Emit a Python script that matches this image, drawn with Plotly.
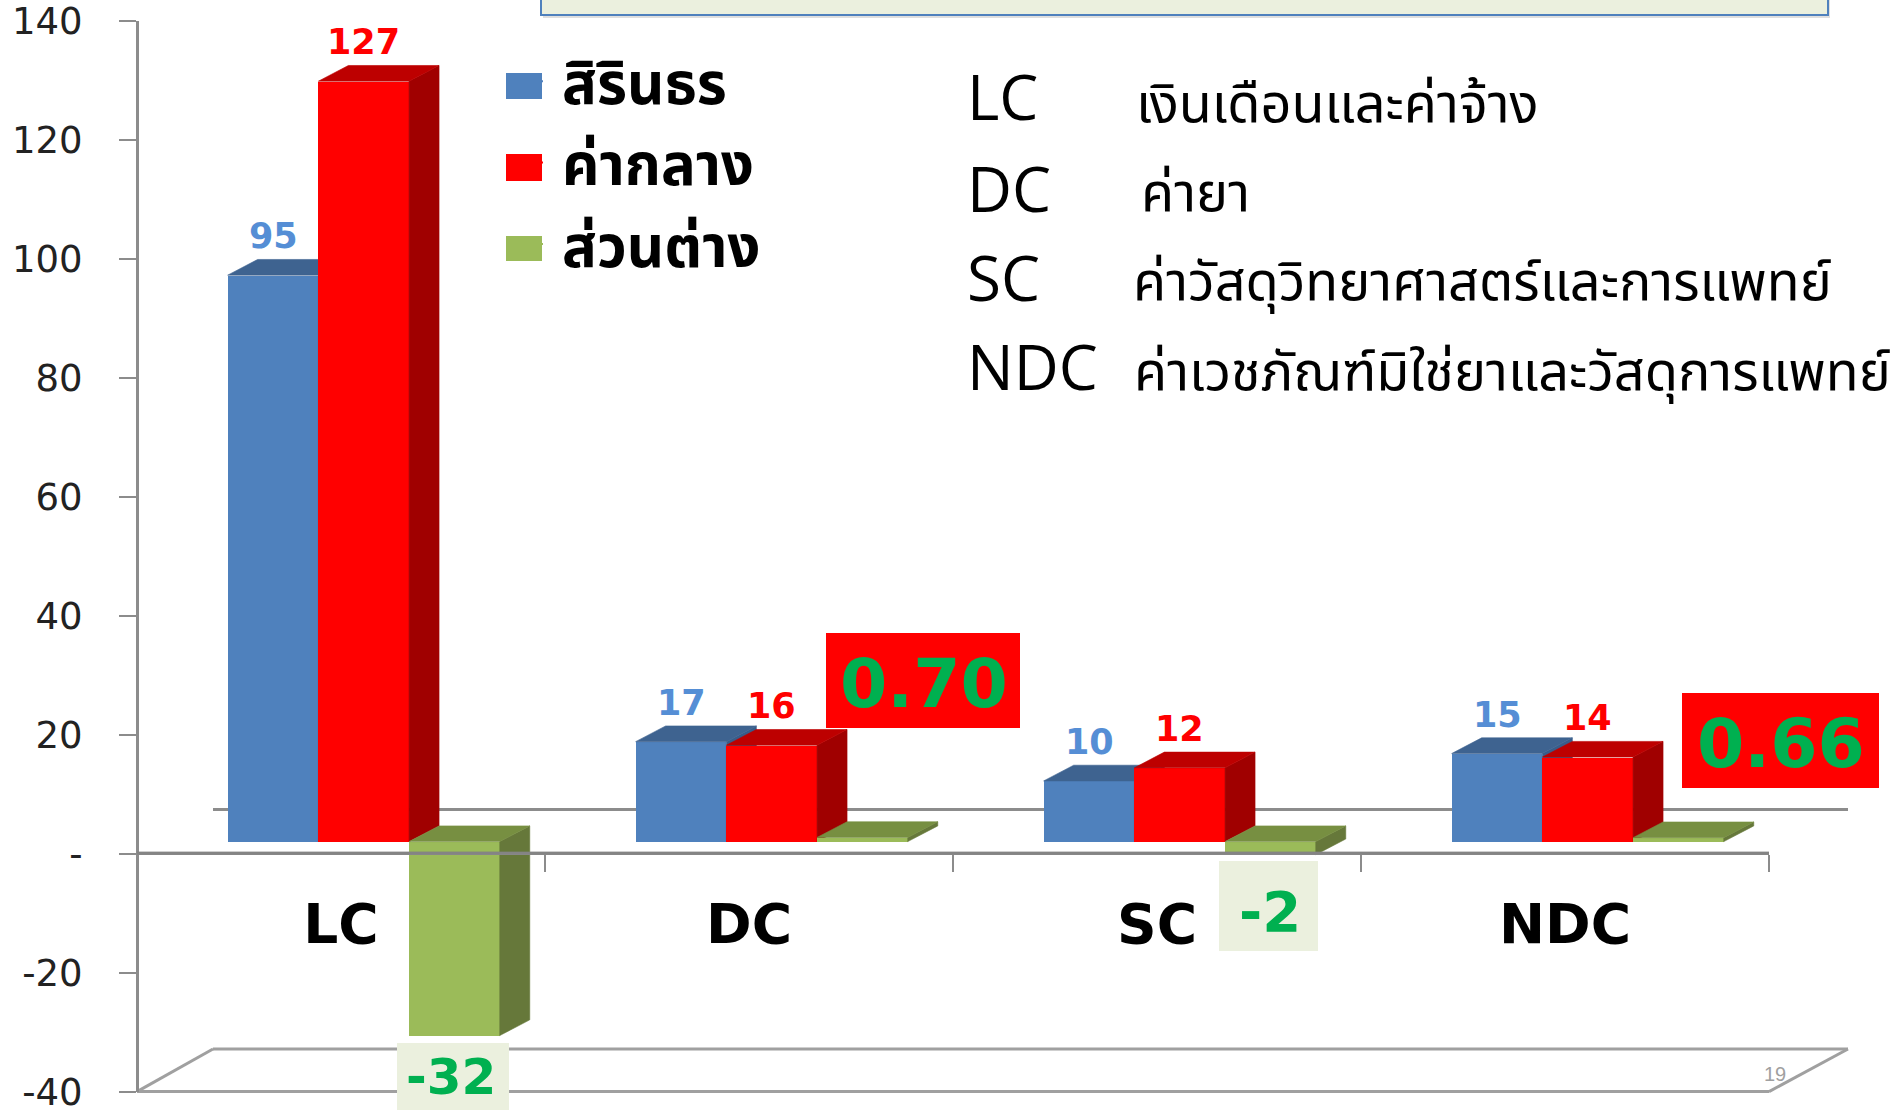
import plotly.graph_objects as go

W, H = 1897, 1110
categories = ["LC", "DC", "SC", "NDC"]
sirindhorn = [95.2, 16.8, 10.2, 14.8]
median = [127.8, 16.2, 12.4, 14.2]
difference = [-32.6, 0.70, -2.2, 0.66]
series_names = ["สิรินธร", "ค่ากลาง", "ส่วนต่าง"]
y_ticks = [-40, -20, 0, 20, 40, 60, 80, 100, 120, 140]
y_ticktext = ["-40", "-20", "-", "20", "40", "60", "80", "100", "120", "140"]
blue_labels = ["95", "17", "10", "15"]
red_labels = ["127", "16", "12", "14"]
diff_labels = ["-32", "0.70", "-2", "0.66"]
definitions = [("LC", "เงินเดือนและค่าจ้าง"), ("DC", "ค่ายา"),
               ("SC", "ค่าวัสดุวิทยาศาสตร์และการแพทย์"),
               ("NDC", "ค่าเวชภัณฑ์มิใช่ยาและวัสดุการแพทย์")]

THAI = "'Noto Sans Thai','Noto Sans','Open Sans',Tahoma,sans-serif"
AX = "#8c8c8c"

L, R = 137.0, 1769.0
T, B = 20.6, 1091.6
cat_px = (R - L) / 4
unit_px = (B - T) / 180
bar_w = 90.7 / cat_px
depth_x = 30 / cat_px
depth_y = 15.7 / unit_px
shift_x = 22.7 / cat_px
shift_y = 12 / unit_px

def px(x): return x / W
def py(y): return 1 - y / H

def faces(values, offset):
    top_x, top_y, side_x, side_y = [], [], [], []
    for i, v in enumerate(values):
        x0 = i + offset
        x1 = x0 + bar_w
        hi = max(v, 0)
        lo = min(v, 0)
        top_x += [x0, x1, x1 + depth_x, x0 + depth_x, x0, None]
        top_y += [hi, hi, hi + depth_y, hi + depth_y, hi, None]
        side_x += [x1, x1 + depth_x, x1 + depth_x, x1, x1, None]
        side_y += [lo, lo + depth_y, hi + depth_y, hi, lo, None]
    return top_x, top_y, side_x, side_y

fig = go.Figure()

fig.add_trace(go.Scatter(x=categories, y=[0, 0, 0, 0], mode="none", showlegend=False,
                         hoverinfo="skip", xaxis="x", yaxis="y"))

styles = [
    (sirindhorn, "#4f81bd", "#3e6390", "#385d8a", -1.5),
    (median, "#ff0000", "#bd0000", "#a00000", -0.5),
    (difference, "#9bbb59", "#778f41", "#66783a", 0.5),
]
for k, (vals, front, top, side, slot) in enumerate(styles):
    n = k + 2
    off = slot * bar_w
    xa, ya = f"x{n}", f"y{n}"
    tx, ty, sx, sy = faces(vals, off)
    fig.add_trace(go.Bar(x=list(range(4)), y=vals, width=bar_w, offset=off, name=series_names[k],
                         marker=dict(color=front, line=dict(width=0)), showlegend=False,
                         xaxis=xa, yaxis=ya))
    fig.add_trace(go.Scatter(x=sx, y=sy, mode="lines", fill="toself", fillcolor=side,
                             line=dict(width=0.6, color=side), showlegend=False, hoverinfo="skip", xaxis=xa, yaxis=ya))
    fig.add_trace(go.Scatter(x=tx, y=ty, mode="lines", fill="toself", fillcolor=top,
                             line=dict(width=0.6, color=top), showlegend=False, hoverinfo="skip", xaxis=xa, yaxis=ya))
    fig.add_trace(go.Scatter(x=[None], y=[None], mode="markers", name=series_names[k],
                             legendgroup=series_names[k],
                             marker=dict(symbol="square", size=2, color=front),
                             xaxis="x", yaxis="y"))
    fig.layout[f"xaxis{n}"] = dict(overlaying="x", visible=False, range=[-0.5 - shift_x, 3.5 - shift_x], fixedrange=True)
    fig.layout[f"yaxis{n}"] = dict(overlaying="y", visible=False, range=[-40 - shift_y, 140 - shift_y], fixedrange=True)

annotations = []
for i in range(4):
    annotations.append(dict(xref="x2", yref="y2", x=i - bar_w, y=sirindhorn[i], yshift=39, text=blue_labels[i],
                            showarrow=False, font=dict(family="DejaVu Sans", size=35, color="#558ed5", weight="bold")))
    annotations.append(dict(xref="x3", yref="y3", x=i, y=median[i], yshift=39, text=red_labels[i],
                            showarrow=False, font=dict(family="DejaVu Sans", size=35, color="#ff0000", weight="bold")))

boxes = [(397, 509, 1043, 1110, "#ebf0de", 50, 451, 1077),
         (826, 1020, 633, 728, "#ff0000", 68, 924, 683),
         (1219, 1318, 861, 951, "#ebf0de", 56, 1270, 911),
         (1682, 1879, 693, 788, "#ff0000", 68, 1781, 743)]
shapes = [
    dict(type="rect", xref="paper", yref="paper", x0=px(543), x1=px(1830), y0=py(18), y1=py(-5),
         fillcolor="rgba(80,80,80,0.18)", line=dict(width=0), layer="above"),
    dict(type="rect", xref="paper", yref="paper", x0=px(541), x1=px(1828), y0=py(15), y1=py(-5),
         fillcolor="#ebf0de", line=dict(color="#4f81bd", width=2), layer="above"),
    dict(type="line", xref="paper", yref="paper", x0=px(213), x1=px(1848), y0=py(809.5), y1=py(809.5),
         line=dict(color=AX, width=3), layer="below"),
    dict(type="line", xref="paper", yref="paper", x0=px(L), x1=px(213), y0=py(B), y1=py(1049),
         line=dict(color="#a0a0a0", width=3), layer="below"),
    dict(type="line", xref="paper", yref="paper", x0=px(213), x1=px(1848), y0=py(1049), y1=py(1049),
         line=dict(color="#a0a0a0", width=3), layer="below"),
    dict(type="line", xref="paper", yref="paper", x0=px(R), x1=px(1848), y0=py(B), y1=py(1049),
         line=dict(color="#a0a0a0", width=3), layer="below"),
    dict(type="line", xref="paper", yref="paper", x0=px(L), x1=px(R), y0=py(B), y1=py(B),
         line=dict(color="#a0a0a0", width=3), layer="below"),
    dict(type="line", xref="paper", yref="paper", x0=px(L), x1=px(R), y0=py(853), y1=py(853),
         line=dict(color="rgba(130,130,130,0.75)", width=3), layer="above"),
]
for (y0, y1), (_, front, *_rest) in zip([(73, 99), (154, 181), (236, 261)], styles):
    shapes.append(dict(type="rect", xref="paper", yref="paper", x0=px(506), x1=px(542), y0=py(y1), y1=py(y0),
                       fillcolor=front, line=dict(width=0), layer="above"))
for (x0, x1, y0, y1, col, size, cx, cy), lab in zip(boxes, diff_labels):
    shapes.append(dict(type="rect", xref="paper", yref="paper", x0=px(x0), x1=px(x1), y0=py(y1), y1=py(y0),
                       fillcolor=col, line=dict(width=0), layer="above"))
    annotations.append(dict(xref="paper", yref="paper", x=px(cx), y=py(cy), text=lab, showarrow=False,
                            xanchor="center", yanchor="middle",
                            font=dict(family="DejaVu Sans", size=size, color="#00b050", weight="bold")))

ys = [(96, 105), (188, 194), (277, 283), (366, 373)]
xs = [1134, 1139, 1131, 1132]
for (code, desc), (y1, y2), xt in zip(definitions, ys, xs):
    annotations.append(dict(xref="paper", yref="paper", x=px(965), y=py(y1), text=code, showarrow=False,
                            xanchor="left", yanchor="middle",
                            font=dict(family="Open Sans", size=62, color="#000000")))
    annotations.append(dict(xref="paper", yref="paper", x=px(xt), y=py(y2), text=desc, showarrow=False,
                            xanchor="left", yanchor="middle",
                            font=dict(family=THAI, size=54, color="#000000")))
annotations.append(dict(xref="paper", yref="paper", x=px(1775), y=py(1074), text="19", showarrow=False,
                        xanchor="center", yanchor="middle",
                        font=dict(family="Liberation Sans", size=20, color="#a0a0a0")))

fig.update_layout(
    width=W, height=H, autosize=False, margin=dict(l=0, r=0, t=0, b=0),
    paper_bgcolor="white", plot_bgcolor="rgba(0,0,0,0)", shapes=shapes, annotations=annotations,
    xaxis=dict(type="category", categoryarray=categories, categoryorder="array",
               domain=[px(L), px(R)], range=[-0.5, 3.5], anchor="free", position=py(853),
               tickson="boundaries", ticks="outside", ticklen=17, tickwidth=2, tickcolor=AX,
               showline=True, linecolor=AX, linewidth=3, showgrid=False, zeroline=False,
               tickfont=dict(family="DejaVu Sans", size=55, color="#000000", weight="bold"),
               ticklabelstandoff=22, automargin=False, fixedrange=True),
    yaxis=dict(domain=[py(B), py(T)], range=[-40, 140], anchor="free", position=px(L),
               tickmode="array", tickvals=y_ticks, ticktext=y_ticktext,
               ticks="outside", ticklen=17, tickwidth=2, tickcolor=AX, ticklabelstandoff=29,
               ticklabeloverflow="allow",
               showline=True, linecolor=AX, linewidth=3, showgrid=False, zeroline=False,
               tickfont=dict(family="DejaVu Sans", size=37, color="#222222"), automargin=False, fixedrange=True),
    legend=dict(x=px(522), y=py(37), xanchor="left", yanchor="top", bgcolor="rgba(0,0,0,0)",
                font=dict(family=THAI, size=58, color="#000000", weight="bold"),
                itemwidth=30, tracegroupgap=3, itemclick=False, itemdoubleclick=False),
    showlegend=True, bargap=0,
)

fig.write_html("out.html", config=dict(displayModeBar=False),
               post_script="document.body.style.margin='0';document.body.style.overflow='hidden';")
